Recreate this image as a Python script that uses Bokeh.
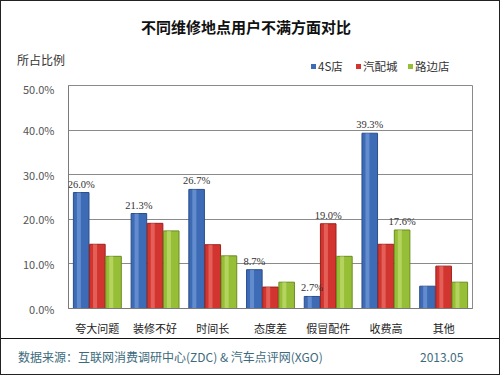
from bokeh.plotting import figure
from bokeh.models import (ColumnDataSource, FactorRange, LabelSet, Div,
                          PrintfTickFormatter, FixedTicker)
from bokeh.layouts import column
from bokeh.transform import dodge
from bokeh.embed import file_html
from bokeh.resources import INLINE

categories = ["夸大问题", "装修不好", "时间长", "态度差", "假冒配件", "收费高", "其他"]
series_names = ["4S店", "汽配城", "路边店"]
shop_4s = [26.0, 21.3, 26.7, 8.7, 2.7, 39.3, 5.0]
parts_city = [14.4, 19.1, 14.3, 4.8, 19.0, 14.4, 9.5]
roadside = [11.7, 17.4, 11.8, 5.9, 11.7, 17.6, 5.9]
# which values carry a data label
show_4s = [True, True, True, True, True, True, False]
show_pc = [False, False, False, False, True, False, False]
show_rs = [False, False, False, False, False, True, False]
y_ticks = [0, 10, 20, 30, 40, 50]
title_text = "不同维修地点用户不满方面对比"
y_caption = "所占比例"
footer_text = "数据来源：互联网消费调研中心(ZDC) &amp; 汽车点评网(XGO)"
date_text = "2013.05"

FONT = "Noto Sans CJK SC"
colors = ["#3d6bb6", "#d2352f", "#96bf37"]
edges = ["#2a4d8a", "#9c1f1b", "#6a8c20"]
light = ["#8aaee6", "#f58a80", "#d2ea88"]

W = 498
TOP_H, FIG_H, FOOT_H = 79, 258, 36
ML, MR, MT, MB = 67, 27, 5, 28

src = ColumnDataSource(dict(cat=categories, a=shop_4s, b=parts_city, c=roadside))

p = figure(x_range=FactorRange(*categories, range_padding=0), y_range=(0, 50),
           width=W, height=FIG_H, output_backend="svg", toolbar_location=None,
           min_border_left=ML, min_border_right=MR, min_border_top=MT, min_border_bottom=MB,
           background_fill_color="white", border_fill_color="white", margin=0)

bw = 0.27
offs = [-0.28, 0.0, 0.28]
fields = ["a", "b", "c"]
for f, off, col, ec, lc in zip(fields, offs, colors, edges, light):
    p.vbar(x=dodge("cat", off, range=p.x_range), top=f, width=bw, source=src,
           fill_color=col, line_color=ec, line_width=1)
    p.vbar(x=dodge("cat", off - 0.04, range=p.x_range), top=f, width=0.07, source=src,
           fill_color=lc, fill_alpha=0.5, line_color=None)

# data labels
for vals, shows, off in zip([shop_4s, parts_city, roadside], [show_4s, show_pc, show_rs], offs):
    xs = [c for c, s in zip(categories, shows) if s]
    ys = [v for v, s in zip(vals, shows) if s]
    if not xs:
        continue
    s2 = ColumnDataSource(dict(x=xs, y=ys, t=[f"{v:.1f}%" for v in ys]))
    p.add_layout(LabelSet(x=dodge("x", off, range=p.x_range), y="y", text="t", source=s2,
                          text_align="center", text_baseline="bottom", x_offset=0, y_offset=3,
                          text_font=FONT, text_font_size="10.5px", text_color="#333333"))

# axes
p.yaxis.ticker = FixedTicker(ticks=y_ticks)
p.yaxis.formatter = PrintfTickFormatter(format="%.1f%%")
p.yaxis.major_tick_line_color = None
p.yaxis.minor_tick_line_color = None
p.yaxis.axis_line_color = "#7a7a7a"
p.yaxis.major_label_text_font = FONT
p.yaxis.major_label_text_font_size = "11px"
p.yaxis.major_label_text_color = "#555555"
p.yaxis.major_label_standoff = 8
p.xaxis.major_tick_line_color = None
p.xaxis.axis_line_color = "#7a7a7a"
p.xaxis.major_label_text_font = FONT
p.xaxis.major_label_text_font_size = "11px"
p.xaxis.major_label_text_color = "#222222"
p.xaxis.major_label_standoff = 5
p.xgrid.grid_line_color = None
p.ygrid.grid_line_color = "#8a8a8a"
p.ygrid.ticker = FixedTicker(ticks=y_ticks)
p.outline_line_color = "#8a8a8a"

# header: title, axis caption and legend
legend_x = [310, 355, 407]
legend_html = ""
for name, col, lx in zip(series_names, colors, legend_x):
    legend_html += (
        f'<div style="position:absolute;left:{lx}px;top:63px;width:5px;height:5px;'
        f'background:{col};"></div>'
        f'<div style="position:absolute;left:{lx + 7}px;top:57px;font-size:11.5px;'
        f'line-height:16px;color:#333;white-space:nowrap;">{name}</div>'
    )
header_html = (
    f'<div style="position:relative;width:{W}px;height:{TOP_H}px;font-family:\'{FONT}\';">'
    f'<div style="position:absolute;left:-4px;top:16px;width:{W}px;text-align:center;'
    f'font-size:15px;font-weight:bold;line-height:20px;color:#111;">{title_text}</div>'
    f'<div style="position:absolute;left:16px;top:50px;font-size:12px;line-height:18px;'
    f'color:#333;white-space:nowrap;">{y_caption}</div>'
    + legend_html + '</div>'
)
header = Div(text=header_html, width=W, height=TOP_H, margin=0)

footer_html = (
    f'<div style="position:relative;width:{W}px;height:{FOOT_H - 1}px;'
    f'border-top:1px solid #111;font-family:\'{FONT}\';font-size:12px;color:#3d6b7d;">'
    f'<div style="position:absolute;left:17px;top:9px;line-height:18px;white-space:nowrap;">'
    f'{footer_text}</div>'
    f'<div style="position:absolute;left:419px;top:9px;line-height:18px;white-space:nowrap;">'
    f'{date_text}</div></div>'
)
footer = Div(text=footer_html, width=W, height=FOOT_H, margin=0)

layout = column(header, p, footer, spacing=0, margin=0,
                styles={"border": "1px solid #222", "background": "white"})

open("out.html", "w").write(file_html(layout, INLINE))
